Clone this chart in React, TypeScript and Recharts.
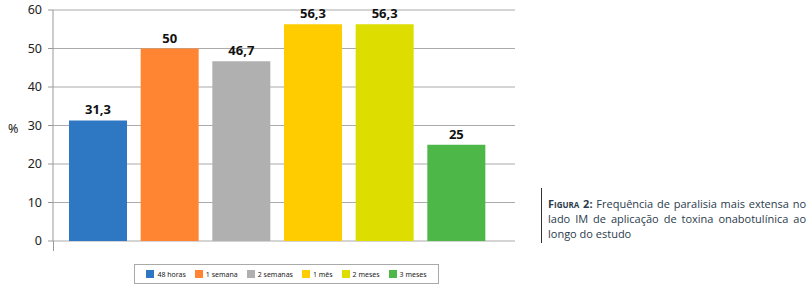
import React from 'react';
import { BarChart, Bar, XAxis, YAxis, CartesianGrid, Cell, LabelList } from 'recharts';

const categories = ['48 horas', '1 semana', '2 semanas', '1 mês', '2 meses', '3 meses'];
const values = [31.3, 50, 46.7, 56.3, 56.3, 25];
const colors = ['#2E77C2', '#FF8533', '#B0B0B0', '#FFCC00', '#DDDD00', '#4DB848'];
const yTicks = [0, 10, 20, 30, 40, 50, 60];

const data = categories.map((c, i) => ({ name: c, value: values[i] }));

const fmt = (v: number) => String(v).replace('.', ',');

export default function App() {
  return (
    <div style={{ position: 'absolute', left: 0, top: 0, width: 810, height: 289, background: '#fff' }}>
      <BarChart
        width={810}
        height={289}
        data={data}
        margin={{ top: 10, right: 295, bottom: 48, left: 0 }}
        barSize={58}
      >
        <CartesianGrid horizontal vertical={false} stroke="#aaa" />
        <XAxis dataKey="name" hide padding={{ left: 9, right: 23 }} />
        <YAxis
          width={53}
          domain={[0, 60]}
          ticks={yTicks}
          interval={0}
          tickSize={5}
          tickMargin={6}
          stroke="#999"
          tick={{ fill: '#222', fontSize: 12.5, fontFamily: 'Noto Sans, sans-serif' }}
          label={{ value: '%', position: 'insideLeft', offset: 8, fill: '#222', fontSize: 12.5, fontFamily: 'Noto Sans, sans-serif', dy: 3 }}
        />
        <Bar dataKey="value" isAnimationActive={false}>
          {data.map((d, i) => (
            <Cell key={d.name} fill={colors[i]} />
          ))}
          <LabelList
            dataKey="value"
            position="top"
            offset={6}
            formatter={(v: number) => fmt(v)}
            style={{ fill: '#111', fontSize: 13, fontWeight: 700, fontFamily: 'Open Sans, sans-serif' }}
          />
        </Bar>
      </BarChart>
      <div
        style={{
          position: 'absolute',
          left: 134,
          top: 264,
          width: 305,
          height: 20,
          border: '1px solid #aaa',
          boxSizing: 'border-box',
          display: 'flex',
          alignItems: 'center',
          justifyContent: 'center',
          fontFamily: 'Noto Sans, sans-serif',
          fontSize: 7,
          color: '#222',
          whiteSpace: 'nowrap',
        }}
      >
        {categories.map((c, i) => (
          <div key={c} style={{ display: 'flex', alignItems: 'center', margin: '0 4.5px' }}>
            <span style={{ width: 8, height: 8, background: colors[i], display: 'inline-block', marginRight: 3 }} />
            <span>{c}</span>
          </div>
        ))}
      </div>
      <div
        style={{
          position: 'absolute',
          left: 53,
          top: 241,
          width: 1,
          height: 10,
          background: '#999',
        }}
      />
      <div
        style={{
          position: 'absolute',
          left: 541,
          top: 188,
          width: 1,
          height: 55,
          background: '#333',
        }}
      />
      <div
        style={{
          position: 'absolute',
          left: 548,
          top: 196,
          width: 258,
          fontFamily: 'Open Sans, sans-serif',
          fontSize: 11,
          lineHeight: '15px',
          color: '#2a3b4c',
          textAlign: 'justify',
        }}
      >
        <span style={{ fontVariant: 'small-caps', fontWeight: 700 }}>Figura 2:</span> Frequência de paralisia mais extensa no lado IM de aplicação de toxina onabotulínica ao longo do estudo
      </div>
    </div>
  );
}
